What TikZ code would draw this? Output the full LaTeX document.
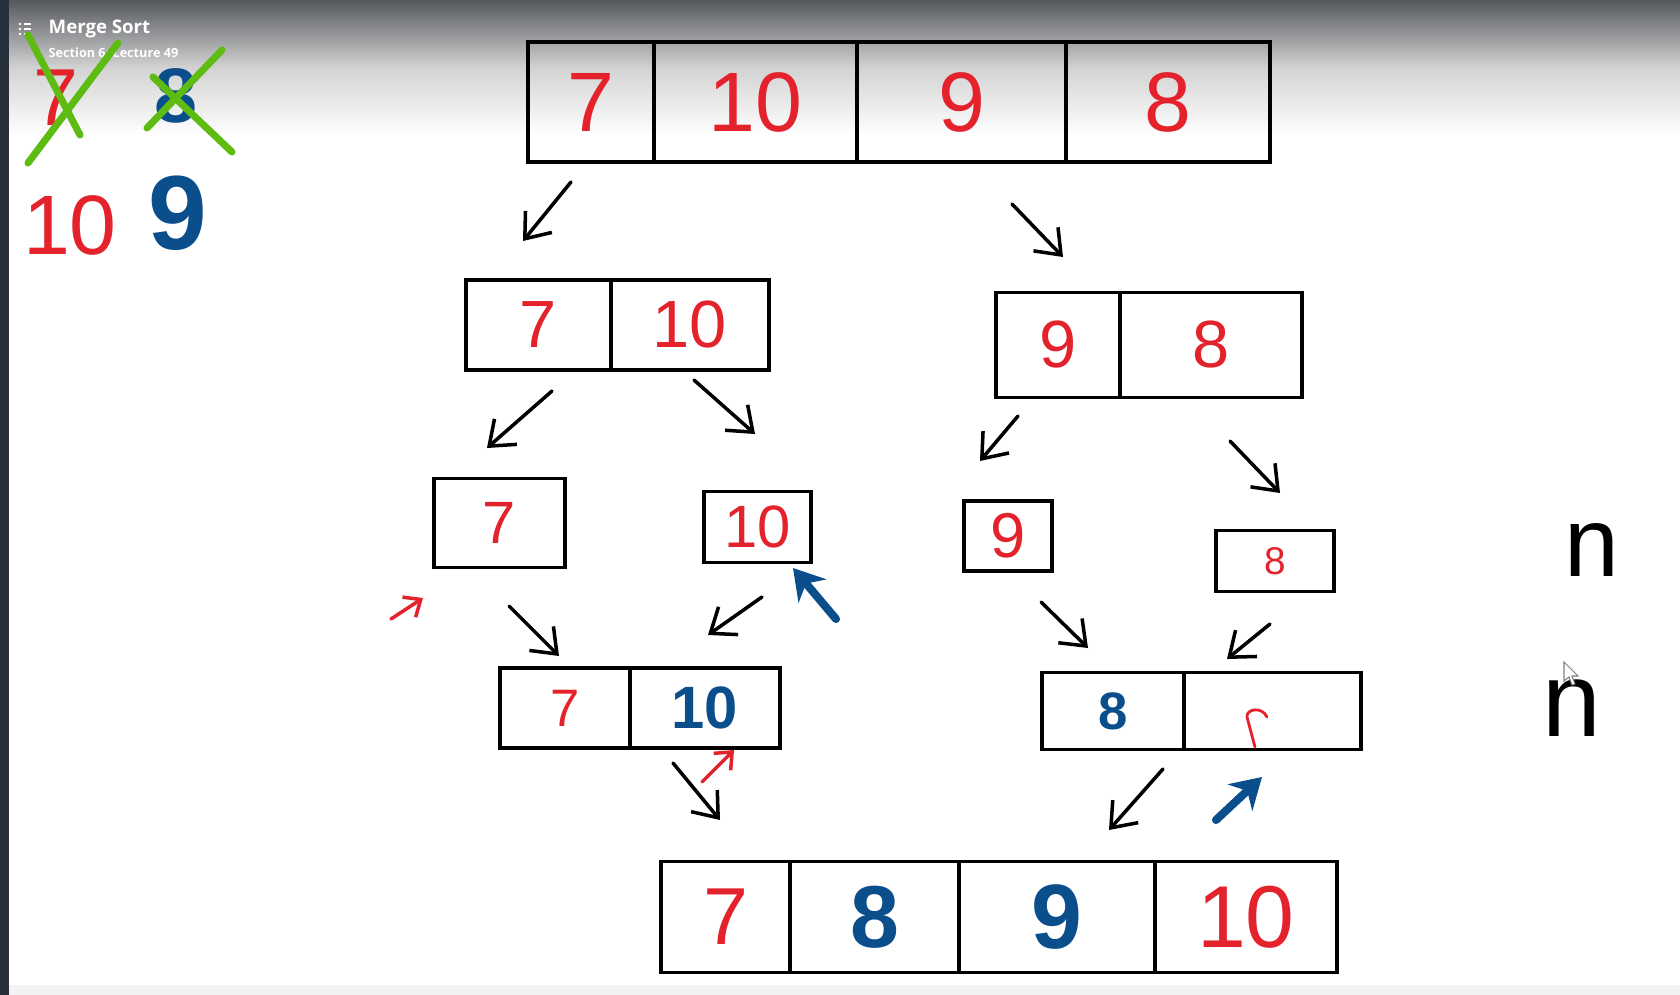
\documentclass[tikz,border=0pt]{standalone}
\usepackage{fontspec}
\setmainfont{Liberation Sans}
\newfontfamily\hdrfont{Open Sans}
\usetikzlibrary{arrows.meta,positioning}
\definecolor{inkred}{HTML}{E3222C}
\definecolor{inkblue}{HTML}{0B4E8C}
\definecolor{inkgreen}{HTML}{5DBB12}
\definecolor{hdrgray}{HTML}{55585D}
\definecolor{sidebar}{HTML}{29303D}
\tikzset{
  cell/.style     = {draw, line width=1pt, inner sep=0pt, outer sep=0pt},
  rednum/.style   = {text=inkred},
  bluenum/.style  = {text=inkblue, execute at begin node=\bfseries},
  sz/.style       = {font=\fontsize{#1}{#1}\selectfont},
  pen/.style      = {line width=1pt, line cap=round, -{Straight Barb[length=2.2mm,width=3.4mm]}},
  redpen/.style   = {pen, draw=inkred, -{Straight Barb[length=1.4mm,width=2.4mm]}},
  bluepen/.style  = {line width=2.3pt, line cap=round, draw=inkblue,
                     -{Stealth[length=3mm,width=3.6mm]}},
  cross/.style    = {line width=2pt, line cap=round, draw=inkgreen},
}

\begin{document}
\begin{tikzpicture}[x=0.1mm, y=-0.1mm]
  \useasboundingbox (0,0) rectangle (1680,995);
  % ---------------- screen frame ------------------------------------------
  \fill[white] (0,0) rectangle (1680,995);
  \shade[top color=hdrgray, bottom color=white, middle color=gray!35] (0,0) rectangle (1680,135);
  \fill[gray!10] (0,985) rectangle (1680,995);
  \fill[sidebar] (0,0) rectangle (9,995);
  \foreach \yy in {24,29,34} {
    \fill[white] (20,\yy) circle (1.3);
    \fill[white] (24,\yy-0.8) rectangle (31,\yy+0.8);
  }
  \node[anchor=west, text=white, inner sep=0pt, font=\hdrfont\bfseries\fontsize{5.3}{6}\selectfont]
    (title) at (48,29) {Merge Sort};
  \node[anchor=west, text=white, inner sep=0pt, font=\hdrfont\bfseries\fontsize{3.6}{4}\selectfont]
    (subtitle) at (48,54) {Section 6, Lecture 49};

  % ---------------- scratch digits, top left -------------------------------
  \node[rednum, sz=23, inner sep=0pt] (old7) at (56,98) {7};
  \node[bluenum, sz=22, inner sep=0pt] (old8) at (176,96) {8};
  \draw[cross] (28,35) -- (80,135);
  \draw[cross] (118,43) -- (28,163);
  \draw[cross] (153,77) -- (232,152);
  \draw[cross] (222,50) -- (147,128);
  \node[rednum, sz=24, inner sep=0pt] (old10) at (70,225) {10};
  \node[bluenum, sz=30, inner sep=0pt] (old9) at (178,213) {9};

  % ---------------- split: level 0 ----------------------------------------
  \node[cell, rednum, sz=24, minimum width=12.6mm, minimum height=12mm] (t1) at (591,102) {7};
  \node[cell, rednum, sz=24, minimum width=20.3mm, minimum height=12mm, right=0pt of t1] (t2) {10};
  \node[cell, rednum, sz=24, minimum width=20.9mm, minimum height=12mm, right=0pt of t2] (t3) {9};
  \node[cell, rednum, sz=24, minimum width=20.4mm, minimum height=12mm, right=0pt of t3] (t4) {8};

  % ---------------- split: level 1 ----------------------------------------
  \node[cell, rednum, sz=19, minimum width=14.5mm, minimum height=9mm] (hl1) at (538.5,325) {7};
  \node[cell, rednum, sz=19, minimum width=15.8mm, minimum height=9mm, right=0pt of hl1] (hl2) {10};
  \node[cell, rednum, sz=19, minimum width=12.4mm, minimum height=10.5mm] (hr1) at (1058,345) {9};
  \node[cell, rednum, sz=19, minimum width=18.2mm, minimum height=10.5mm, right=0pt of hr1] (hr2) {8};

  % ---------------- split: level 2 ----------------------------------------
  \node[cell, rednum, sz=17, minimum width=13.1mm, minimum height=8.9mm] (q7) at (499.5,523) {7};
  \node[cell, rednum, sz=17, minimum width=10.7mm, minimum height=7.1mm] (q10) at (757.5,527) {10};
  \node[cell, rednum, sz=18, minimum width=8.8mm, minimum height=7mm] (q9) at (1008,536) {9};
  \node[cell, rednum, sz=11, minimum width=11.8mm, minimum height=6.1mm] (q8) at (1275,561) {8};

  % ---------------- merge: level 1 ----------------------------------------
  \node[cell, rednum, sz=15, minimum width=13mm, minimum height=8mm] (ml1) at (565,708) {7};
  \node[cell, bluenum, sz=17, minimum width=15mm, minimum height=8mm, right=0pt of ml1] (ml2) {10};
  \node[cell, bluenum, sz=15, minimum width=14.2mm, minimum height=7.7mm] (mr1) at (1113,711) {8};
  \node[cell, minimum width=17.7mm, minimum height=7.7mm, right=0pt of mr1] (mr2) {};
  \draw[inkred, line width=0.8pt, line cap=round]
    (1255,747) -- (1247,717) .. controls (1246,709) and (1262,706) .. (1267,717);

  % ---------------- merge: level 0 ----------------------------------------
  \node[cell, rednum, sz=23, minimum width=12.9mm, minimum height=11.1mm] (f1) at (725.5,917) {7};
  \node[cell, bluenum, sz=25, minimum width=16.9mm, minimum height=11.1mm, right=0pt of f1] (f2) {8};
  \node[cell, bluenum, sz=26, minimum width=19.6mm, minimum height=11.1mm, right=0pt of f2] (f3) {9};
  \node[cell, rednum, sz=25, minimum width=18.2mm, minimum height=11.1mm, right=0pt of f3] (f4) {10};

  % ---------------- arrows -------------------------------------------------
  \coordinate (a1s) at (571,182);  \coordinate (a1e) at (523,241);
  \coordinate (a2s) at (1012,204); \coordinate (a2e) at (1063,257);
  \coordinate (a3s) at (552,391);  \coordinate (a3e) at (487,448);
  \coordinate (a4s) at (694,380);  \coordinate (a4e) at (755,434);
  \coordinate (a5s) at (1018,416); \coordinate (a5e) at (980,461);
  \coordinate (a6s) at (1230,441); \coordinate (a6e) at (1280,493);
  \coordinate (a7s) at (509,606);  \coordinate (a7e) at (559,656);
  \coordinate (a8s) at (762,597);  \coordinate (a8e) at (708,635);
  \coordinate (a9s) at (1041,602); \coordinate (a9e) at (1088,648);
  \coordinate (a10s) at (1270,624); \coordinate (a10e) at (1227,659);
  \coordinate (a11s) at (673,763); \coordinate (a11e) at (720,820);
  \coordinate (a12s) at (1163,769); \coordinate (a12e) at (1109,830);
  \draw[pen] (a1s) -- (a1e);
  \draw[pen] (a2s) -- (a2e);
  \draw[pen] (a3s) -- (a3e);
  \draw[pen] (a4s) -- (a4e);
  \draw[pen] (a5s) -- (a5e);
  \draw[pen] (a6s) -- (a6e);
  \draw[pen] (a7s) -- (a7e);
  \draw[pen] (a8s) -- (a8e);
  \draw[pen] (a9s) -- (a9e);
  \draw[pen] (a10s) -- (a10e);
  \draw[pen] (a11s) -- (a11e);
  \draw[pen] (a12s) -- (a12e);

  % pointers
  \coordinate (r1s) at (391,619);  \coordinate (r1e) at (423,598);
  \coordinate (r2s) at (702,782);  \coordinate (r2e) at (734,750);
  \coordinate (b1s) at (836,619);  \coordinate (b1e) at (793,568);
  \coordinate (b2s) at (1216,820); \coordinate (b2e) at (1262,777);
  \draw[redpen] (r1s) -- (r1e);
  \draw[redpen] (r2s) -- (r2e);
  \draw[bluepen] (b1s) -- (b1e);
  \draw[bluepen] (b2s) -- (b2e);

  % ---------------- n, n ---------------------------------------------------
  \node[sz=28] (nA) at (1592,550) {n};
  \node[sz=30] (nB) at (1572,708) {n};
  \draw[fill=white, draw=gray, line width=0.3pt]
    (1564,662) -- (1564,681) -- (1569,677) -- (1572,685) -- (1575,684)
    -- (1572,676) -- (1578,676) -- cycle;
\end{tikzpicture}
\end{document}
